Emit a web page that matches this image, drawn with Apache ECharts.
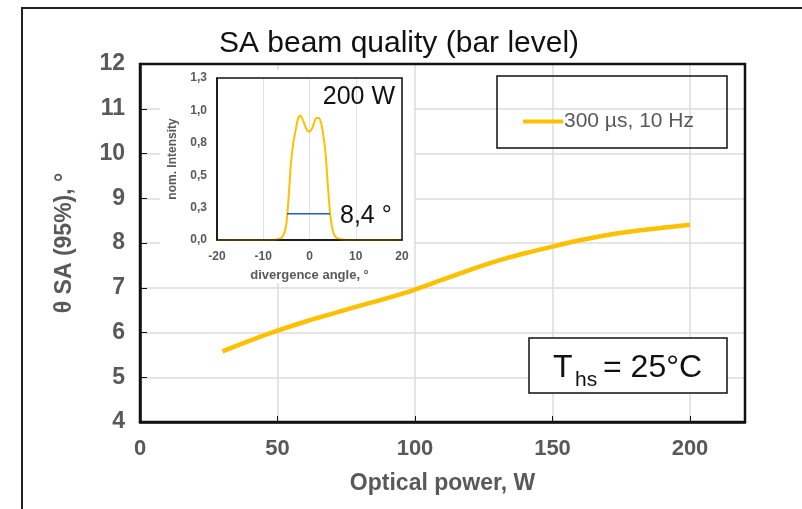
<!DOCTYPE html>
<html>
<head>
<meta charset="utf-8">
<script src="https://cdn.jsdelivr.net/npm/echarts@6/dist/echarts.min.js"></script>
<style>
  html, body { margin: 0; padding: 0; background: #fff; }
  #myChart { width: 802px; height: 509px; }
</style>
</head>
<body>
<div id="myChart"></div>
<script>
// main curve: optical power (W) vs SA divergence (deg)
var power = [30, 40, 50, 60, 70, 80, 90, 100, 110, 120, 130, 140, 150, 160, 170, 180, 190, 200];
var thetaSA = [5.58, 5.82, 6.04, 6.24, 6.42, 6.6, 6.77, 6.96, 7.18, 7.4, 7.6, 7.77, 7.92, 8.06, 8.18, 8.27, 8.34, 8.41];

// inset: far field profile at 200 W
var angle = [-20, -8, -7, -6.5, -6, -5.5, -5, -4.5, -4, -3.5, -3, -2.5, -2, -1.5, -1, -0.5, 0, 0.5, 1, 1.5, 2, 2.5, 3, 3.5, 4, 4.5, 5, 5.5, 6, 7, 8, 20];
var intensity = [0, 0, 0.005, 0.01, 0.02, 0.05, 0.13, 0.35, 0.62, 0.78, 0.88, 0.97, 1.0, 0.97, 0.92, 0.88, 0.87, 0.89, 0.94, 0.98, 0.98, 0.94, 0.84, 0.68, 0.42, 0.2, 0.08, 0.03, 0.015, 0.004, 0, 0];

// 95% width marker
var fwhmX = [-4.86, 4.43];
var fwhmY = [0.21, 0.21];

var seriesName = '300 µs, 10 Hz';
var labelColor = '#595959';
var gold = '#FFC000';
var font = 'Liberation Sans';

var chart = echarts.init(document.getElementById('myChart'));

function pairs(xs, ys) {
  return xs.map(function (x, i) { return [x, ys[i]]; });
}
function comma1(v) {
  return v.toFixed(1).replace('.', ',');
}

chart.setOption({
  animation: false,
  title: {
    text: 'SA beam quality (bar level)',
    left: 394,
    top: 24,
    textAlign: 'center',
    textStyle: { fontFamily: font, fontWeight: 'normal', fontSize: 30, color: '#111' }
  },
  legend: {
    data: [{ name: seriesName, icon: 'rect' }],
    left: 523,
    top: 111,
    padding: 0,
    itemWidth: 40,
    itemHeight: 4,
    itemGap: 4,
    textStyle: { fontFamily: font, fontSize: 21, color: labelColor, padding: [0, 0, 0, -4] }
  },
  grid: [
    { left: 140, top: 64, right: 57, bottom: 87 },
    { left: 217, top: 78, width: 185, height: 162, z: 3 }
  ],
  xAxis: [
    {
      gridIndex: 0, type: 'value', min: 0, max: 220, interval: 50,
      name: 'Optical power, W', nameLocation: 'middle', nameGap: 50,
      nameTextStyle: { fontFamily: font, fontWeight: 'bold', fontSize: 23, color: labelColor },
      axisLine: { lineStyle: { color: '#111', width: 2.5 } },
      axisTick: { inside: true, length: 6, lineStyle: { color: '#111' } },
      axisLabel: { showMaxLabel: false, margin: 16, fontFamily: font, fontWeight: 'bold', fontSize: 22, color: labelColor },
      splitLine: { lineStyle: { color: '#dcdcdc', width: 1.5 } }
    },
    {
      gridIndex: 1, type: 'value', min: -20, max: 20, interval: 10, z: 3,
      name: 'divergence angle, °', nameLocation: 'middle', nameGap: 29,
      nameTextStyle: { fontFamily: font, fontWeight: 'bold', fontSize: 13, color: labelColor },
      axisLine: { lineStyle: { color: '#111', width: 1.5 } },
      axisTick: { show: false },
      axisLabel: { margin: 11, fontFamily: font, fontWeight: 'bold', fontSize: 12, color: labelColor },
      splitLine: { lineStyle: { color: '#e3e3e3', width: 1 } }
    }
  ],
  yAxis: [
    {
      gridIndex: 0, type: 'value', min: 4, max: 12, interval: 1,
      name: 'θ SA (95%), °', nameLocation: 'middle', nameGap: 64,
      nameTextStyle: { fontFamily: font, fontWeight: 'bold', fontSize: 23, color: labelColor },
      axisLine: { lineStyle: { color: '#111', width: 2.5 } },
      axisTick: { inside: true, length: 7, lineStyle: { color: '#111' } },
      axisLabel: { margin: 15, fontFamily: font, fontWeight: 'bold', fontSize: 23, color: labelColor },
      splitLine: { lineStyle: { color: '#dcdcdc', width: 1.5 } }
    },
    {
      gridIndex: 1, type: 'value', min: 0, max: 1.3, interval: 0.26, z: 3,
      name: 'nom. Intensity', nameLocation: 'middle', nameGap: 38,
      nameTextStyle: { fontFamily: font, fontWeight: 'bold', fontSize: 12, color: labelColor },
      axisLine: { onZero: false, lineStyle: { color: '#111', width: 1.5 } },
      axisTick: { show: false },
      axisLabel: { margin: 10, fontFamily: font, fontWeight: 'bold', fontSize: 12, color: labelColor, formatter: comma1 },
      splitLine: { show: false }
    }
  ],
  graphic: [
    // outer frame of the slide
    { type: 'rect', z: 0, shape: { x: 22, y: 8, width: 900, height: 600 }, style: { fill: 'none', stroke: '#222', lineWidth: 2 } },
    // white backing for the inset
    { type: 'rect', z: 1, shape: { x: 160, y: 70, width: 254, height: 213 }, style: { fill: '#fff' } },
    // plot frames drawn on top of split lines
    { type: 'rect', z: 3, shape: { x: 140, y: 64, width: 605, height: 358 }, style: { fill: 'none', stroke: '#111', lineWidth: 2.5 } },
    { type: 'rect', z: 5, shape: { x: 217, y: 78, width: 185, height: 162 }, style: { fill: 'none', stroke: '#111', lineWidth: 1.5 } },
    { type: 'text', z: 6, x: 395, y: 97, style: { text: '200 W', fontFamily: font, fontSize: 25, fill: '#111', align: 'right', verticalAlign: 'middle' } },
    { type: 'text', z: 6, x: 340, y: 216, style: { text: '8,4 °', fontFamily: font, fontSize: 25, fill: '#111', align: 'left', verticalAlign: 'middle' } },
    // legend box
    { type: 'rect', z: 5, shape: { x: 497, y: 76, width: 230, height: 72 }, style: { fill: 'none', stroke: '#111', lineWidth: 1.5 } },
    // heat sink temperature box
    { type: 'rect', z: 5, shape: { x: 529, y: 338, width: 198, height: 55 }, style: { fill: '#fff', stroke: '#111', lineWidth: 1.5 } },
    { type: 'text', z: 6, x: 553, y: 368, style: { text: 'T', fontFamily: font, fontSize: 32, fill: '#111', verticalAlign: 'middle' } },
    { type: 'text', z: 6, x: 575, y: 380, style: { text: 'hs', fontFamily: font, fontSize: 21, fill: '#111', verticalAlign: 'middle' } },
    { type: 'text', z: 6, x: 603, y: 368, style: { text: '= 25°C', fontFamily: font, fontSize: 32, fill: '#111', verticalAlign: 'middle' } }
  ],
  series: [
    {
      name: seriesName, type: 'line', xAxisIndex: 0, yAxisIndex: 0,
      data: pairs(power, thetaSA), symbol: 'none', smooth: 0.3, z: 2,
      lineStyle: { color: gold, width: 4.5 }, itemStyle: { color: gold }
    },
    {
      name: 'profile', type: 'line', xAxisIndex: 1, yAxisIndex: 1,
      data: pairs(angle, intensity), symbol: 'none', smooth: 0.3, z: 4,
      lineStyle: { color: gold, width: 2 }, itemStyle: { color: gold }
    },
    {
      name: 'width', type: 'line', xAxisIndex: 1, yAxisIndex: 1,
      data: pairs(fwhmX, fwhmY), symbol: 'none', z: 5,
      lineStyle: { color: '#1f5fc4', width: 1.5 }
    }
  ]
});
</script>
</body>
</html>
